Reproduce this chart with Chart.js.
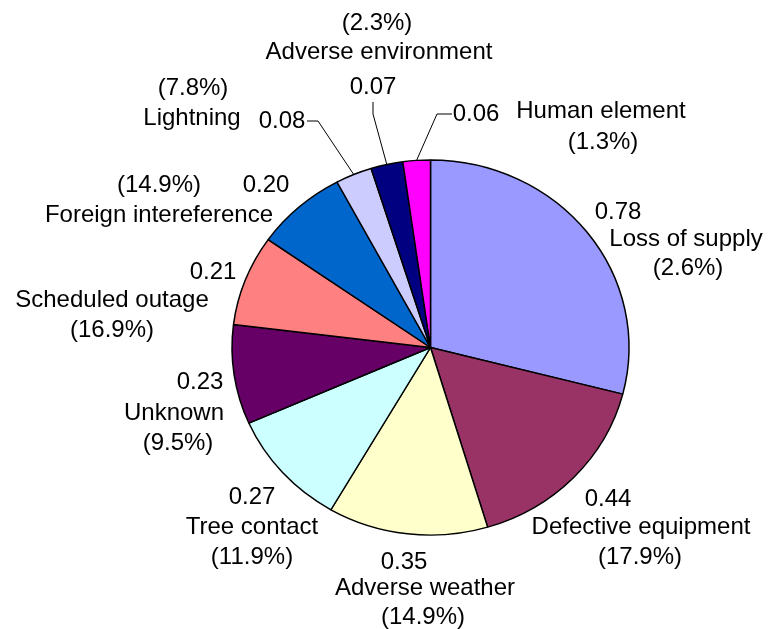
<!DOCTYPE html>
<html>
<head>
<meta charset="utf-8">
<script src="https://cdn.jsdelivr.net/npm/chart.js@4"></script>
<style>
  html, body { margin: 0; padding: 0; background: #fff; }
  #wrap { width: 772px; height: 629px; }
</style>
</head>
<body>
<div id="wrap"><canvas id="myChart" width="772" height="629"></canvas></div>
<script>
'use strict';

// categories (clockwise from 12 o'clock)
var categories = ['Loss of supply', 'Defective equipment', 'Adverse weather', 'Tree contact',
  'Unknown', 'Scheduled outage', 'Foreign intereference', 'Lightning',
  'Adverse environment', 'Human element'];
// values shown on the chart
var values = [0.78, 0.44, 0.35, 0.27, 0.23, 0.21, 0.20, 0.08, 0.07, 0.06];
// percentage texts as printed in the picture
var percentTexts = ['(2.6%)', '(17.9%)', '(14.9%)', '(11.9%)', '(9.5%)', '(16.9%)',
  '(14.9%)', '(7.8%)', '(2.3%)', '(1.3%)'];
var colors = ['#9999FF', '#993366', '#FFFFCC', '#CCFFFF', '#660066', '#FF8080',
  '#0066CC', '#CCCCFF', '#000080', '#FF00FF'];

// label placement: [value, name, percent] line centres
var labelLayout = [
  [[618, 212], [686, 239], [688, 268]],
  [[608, 499], [641, 527], [640, 557]],
  [[404, 562], [425, 588], [423, 617]],
  [[252, 497], [252, 527], [252, 557]],
  [[200, 382], [174, 413], [178, 443]],
  [[213, 272], [112, 300], [112, 330]],
  [[266, 185], [159, 215], [159, 185]],
  [[282, 121], [192, 118], [193, 88]],
  [[373, 87], [379, 52], [377, 23]],
  [[476, 114], [601, 111], [603, 142]]
];
// leader line elbows (end near the text), only for the small slices
var leaders = { 7: [[307, 121], [318, 121]], 8: [[373, 102], [373, 114]], 9: [[452, 114], [437, 114]] };

var squash = 0.945; // pie is a bit flatter than a circle

var squashPlugin = {
  id: 'squash',
  beforeDatasetsDraw: function (chart) {
    var arc = chart.getDatasetMeta(0).data[0];
    var c = chart.ctx;
    c.save();
    c.translate(arc.x, arc.y);
    c.scale(1, squash);
    c.translate(-arc.x, -arc.y);
  },
  afterDatasetsDraw: function (chart) {
    chart.ctx.restore();
  }
};

var labelPlugin = {
  id: 'pieLabels',
  afterDraw: function (chart) {
    var c = chart.ctx;
    var arcs = chart.getDatasetMeta(0).data;
    c.save();
    c.font = '24px "Liberation Sans", Arial, sans-serif';
    c.fillStyle = '#000';
    c.textAlign = 'center';
    c.textBaseline = 'middle';
    arcs.forEach(function (arc, i) {
      var lay = labelLayout[i];
      var texts = [values[i].toFixed(2), categories[i], percentTexts[i]];
      texts.forEach(function (t, j) {
        c.fillText(t, lay[j][0], lay[j][1]);
      });
      if (leaders[i]) {
        var mid = (arc.startAngle + arc.endAngle) / 2;
        var ex = arc.x + arc.outerRadius * Math.cos(mid);
        var ey = arc.y + arc.outerRadius * squash * Math.sin(mid);
        c.beginPath();
        c.strokeStyle = '#000';
        c.lineWidth = 1;
        c.moveTo(leaders[i][0][0], leaders[i][0][1]);
        c.lineTo(leaders[i][1][0], leaders[i][1][1]);
        c.lineTo(ex, ey);
        c.stroke();
      }
    });
    c.restore();
  }
};

var ctx = document.getElementById('myChart');
var myChart = new Chart(ctx, {
  type: 'pie',
  data: {
    labels: categories,
    datasets: [{
      data: values,
      backgroundColor: colors,
      borderColor: '#000',
      borderWidth: 1.5
    }]
  },
  options: {
    responsive: false,
    animation: false,
    radius: 198.5,
    layout: { padding: { left: 100, right: 11, top: 80, bottom: 14 } },
    plugins: {
      legend: { display: false },
      tooltip: { enabled: false }
    }
  },
  plugins: [squashPlugin, labelPlugin]
});
</script>
</body>
</html>
